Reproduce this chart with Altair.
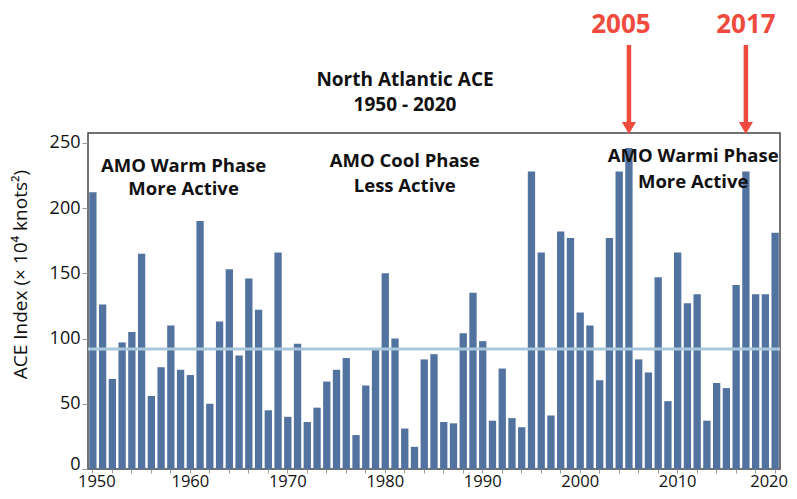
import altair as alt
import pandas as pd

# ---- data ----
years = list(range(1950, 2021))
ace = [212, 126, 69, 97, 105, 165, 56, 78, 110, 76,
       72, 190, 50, 113, 153, 87, 146, 122, 45, 166,
       40, 96, 36, 47, 67, 76, 85, 26, 64, 92,
       150, 100, 31, 17, 84, 88, 36, 35, 104, 135,
       98, 37, 77, 39, 32, 228, 166, 41, 182, 177,
       120, 110, 68, 177, 228, 246, 84, 74, 147, 52,
       166, 127, 134, 37, 66, 62, 141, 228, 134, 134,
       181]
mean_ace = 92

tick_years = list(range(1950, 2021, 2))

phase_groups = [
    {"year": 1959, "dx": 3, "lines": ["AMO Warm Phase", "More Active"], "y": [232.5, 214.3]},
    {"year": 1982, "dx": 0, "lines": ["AMO Cool Phase", "Less Active"], "y": [235.7, 216.6]},
    {"year": 2012, "dx": -4, "lines": ["AMO Warmi Phase", "More Active"], "y": [239.5, 219.6]},
]

highlight_years = [2005, 2017]
highlight_labels = ["2005", "2017"]
highlight_dx = [-8, 0]

title_lines = ["North Atlantic ACE", "1950 - 2020"]

FONT = "Open Sans"
BAR = "#52739f"
MEAN = "#a9c7dc"
RED = "#ef4a3e"

df = pd.DataFrame({"year": years, "ace": ace})

xscale = alt.Scale(domain=years, paddingInner=0.25, paddingOuter=0.125)
yscale = alt.Scale(domain=[0, 257.5], nice=False, zero=True)

bars = alt.Chart(df).mark_bar(color=BAR).encode(
    x=alt.X("year:O", scale=xscale, title=None,
            axis=alt.Axis(values=tick_years,
                          labelExpr="datum.value % 10 == 0 ? datum.label : ''",
                          labelOffset=alt.expr("datum.value == 2020 ? -6 : (datum.value == 1950 ? 4 : 0)"),
                          labelAngle=0, labelFontSize=16.5, labelFont=FONT,
                          labelColor="#111", labelPadding=0, labelOverlap=False,
                          tickColor="#999", tickSize=4, tickWidth=1,
                          domain=False, grid=False)),
    y=alt.Y("ace:Q", scale=yscale,
            axis=alt.Axis(values=[0, 50, 100, 150, 200, 250],
                          labelOffset=alt.expr("datum.value == 0 ? -5 : 0"),
                          labelFontSize=18, labelFont=FONT, labelColor="#111",
                          labelPadding=2, tickColor="#999", tickSize=6,
                          domain=False, grid=False,
                          title="ACE Index (\u00d7 10\u2074 knots\u00b2)",
                          titleFont=FONT, titleFontSize=19, titleFontWeight="normal",
                          titleColor="#111", titleAngle=-90,
                          titleX=-68, titleY=141, titleAlign="center",
                          titleBaseline="middle")),
)

mean_rule = alt.Chart(pd.DataFrame({"mean": [mean_ace]})).mark_rule(
    color=MEAN, strokeWidth=3
).encode(y=alt.Y("mean:Q", scale=yscale))

layers = [bars, mean_rule]

for g in phase_groups:
    gdf = pd.DataFrame({"year": [g["year"]] * len(g["lines"]),
                        "y": g["y"], "text": g["lines"]})
    layers.append(
        alt.Chart(gdf).mark_text(font=FONT, fontSize=18.5, fontWeight="bold",
                                 color="#111", baseline="middle", align="center",
                                 dx=g["dx"]).encode(
            x=alt.X("year:O", scale=xscale),
            y=alt.Y("y:Q", scale=yscale),
            text="text:N",
        )
    )

hdf = pd.DataFrame({"year": highlight_years, "label": highlight_labels})

arrows = alt.Chart(hdf).mark_rule(color=RED, strokeWidth=4.5).encode(
    x=alt.X("year:O", scale=xscale),
    y=alt.value(-88), y2=alt.value(-10),
)
heads = alt.Chart(hdf).mark_point(shape="triangle-down", filled=True, opacity=1,
                                  color=RED, size=200, strokeWidth=0).encode(
    x=alt.X("year:O", scale=xscale),
    y=alt.value(-5),
)
layers += [arrows, heads]

for yr, lab, dx in zip(highlight_years, highlight_labels, highlight_dx):
    layers.append(
        alt.Chart(pd.DataFrame({"year": [yr], "label": [lab]})).mark_text(
            font=FONT, fontSize=26, fontWeight="bold", color=RED,
            baseline="middle", align="center", dx=dx
        ).encode(x=alt.X("year:O", scale=xscale), y=alt.value(-108), text="label:N")
    )

for i, line in enumerate(title_lines):
    layers.append(
        alt.Chart(pd.DataFrame({"t": [line]})).mark_text(
            font=FONT, fontSize=19, fontWeight="bold", color="#111",
            baseline="middle", align="center"
        ).encode(x=alt.value(317), y=alt.value(-53 + 25 * i), text="t:N")
    )

chart = alt.layer(*layers).properties(
    width=692, height=336,
    autosize=alt.AutoSizeParams(type="none"),
    padding={"left": 80, "top": 125, "right": 9, "bottom": 22},
    background="white",
).configure_view(stroke="#444", strokeWidth=1.5)

chart.save("out.html", embed_options={"renderer": "svg", "actions": False})
